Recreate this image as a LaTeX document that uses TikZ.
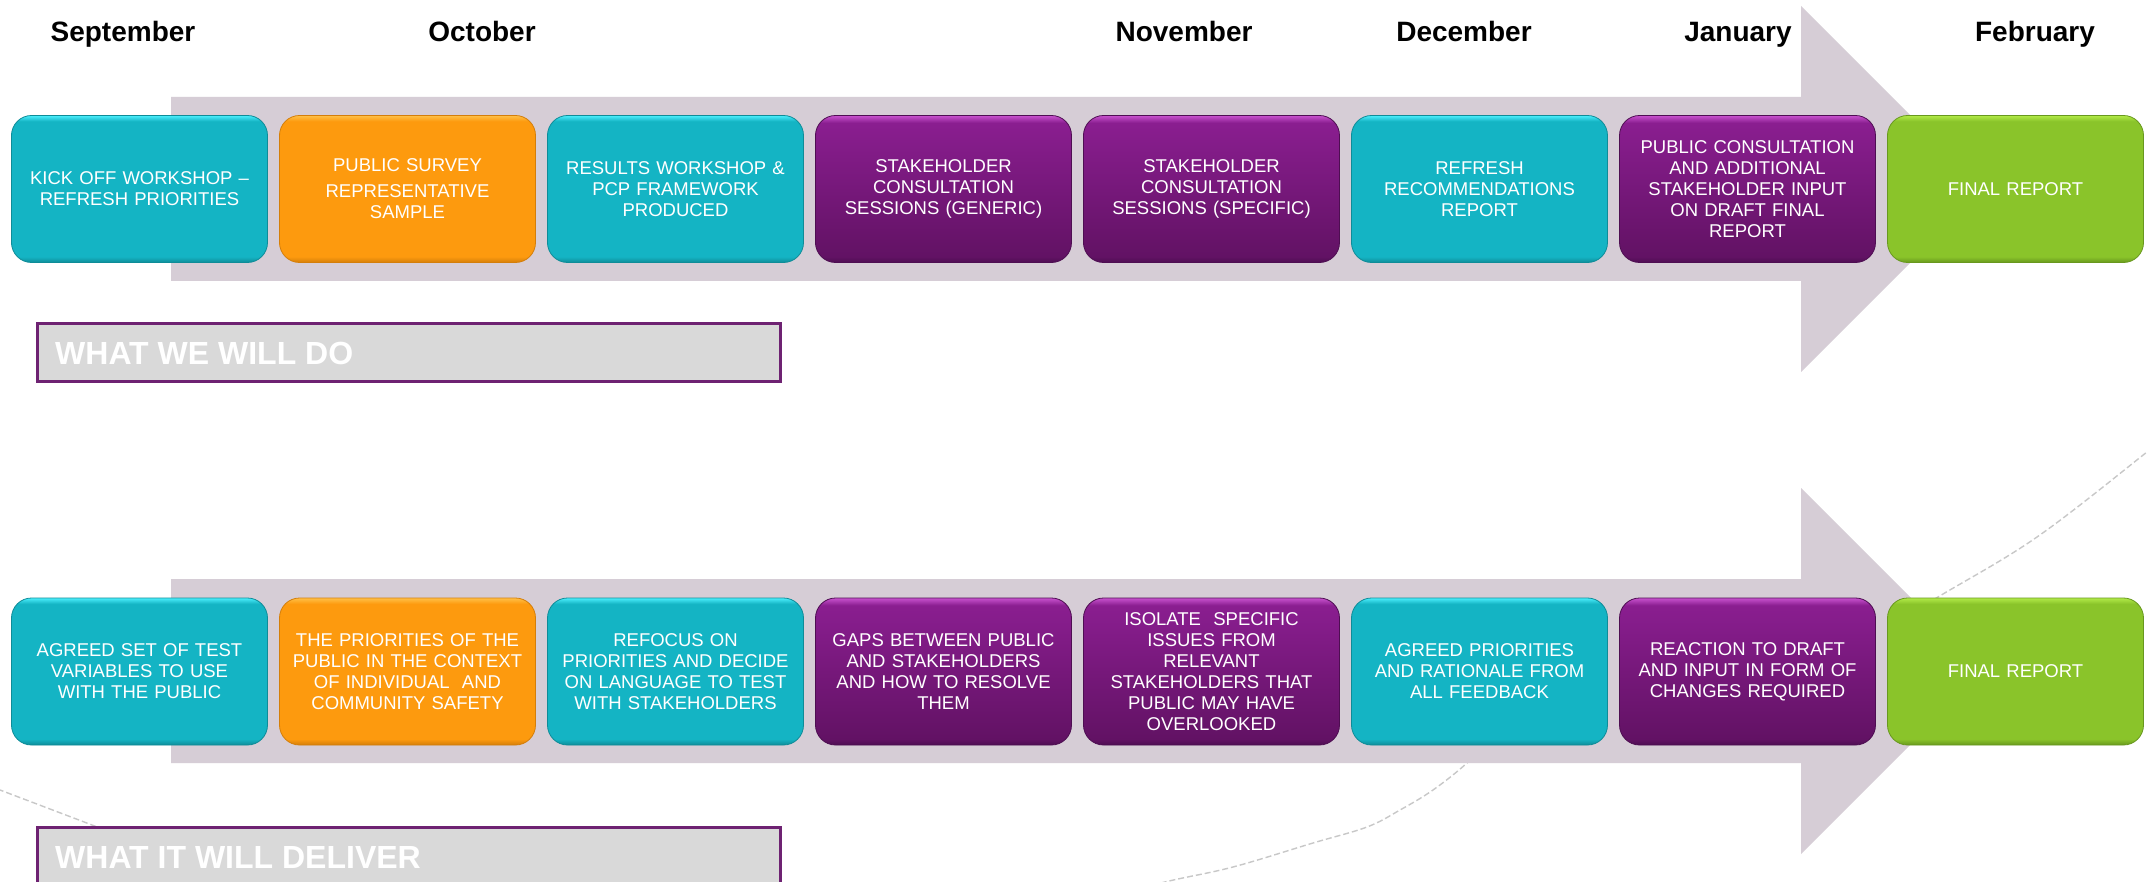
\documentclass[tikz,border=0pt]{standalone}
\usepackage{fontspec}
\setmainfont{Liberation Sans}
\definecolor{arrowc}{RGB}{214,205,214}
\definecolor{tealM}{RGB}{20,180,196}
\definecolor{tealL}{RGB}{75,238,252}
\definecolor{tealD}{RGB}{14,140,152}
\definecolor{orgM}{RGB}{253,154,14}
\definecolor{orgL}{RGB}{255,192,72}
\definecolor{orgD}{RGB}{212,126,10}
\definecolor{purT}{RGB}{138,30,144}
\definecolor{purB}{RGB}{98,18,100}
\definecolor{purL}{RGB}{200,82,206}
\definecolor{purD}{RGB}{78,14,82}
\definecolor{grnM}{RGB}{138,196,42}
\definecolor{grnL}{RGB}{178,234,72}
\definecolor{grnD}{RGB}{104,152,30}
\definecolor{framec}{RGB}{110,34,114}
\definecolor{labelbg}{RGB}{217,217,217}
\definecolor{dashc}{RGB}{200,200,200}
\pgfdeclareverticalshading{tealsh}{100bp}{color(0bp)=(tealD); color(25bp)=(tealD); color(27bp)=(tealM); color(73bp)=(tealM); color(75bp)=(tealL); color(100bp)=(tealL)}
\pgfdeclareverticalshading{orgsh}{100bp}{color(0bp)=(orgD); color(25bp)=(orgD); color(27bp)=(orgM); color(73bp)=(orgM); color(75bp)=(orgL); color(100bp)=(orgL)}
\pgfdeclareverticalshading{pursh}{100bp}{color(0bp)=(purD); color(25bp)=(purD); color(27bp)=(purB); color(72.5bp)=(purT); color(75bp)=(purL); color(100bp)=(purL)}
\pgfdeclareverticalshading{grnsh}{100bp}{color(0bp)=(grnD); color(25bp)=(grnD); color(27bp)=(grnM); color(73bp)=(grnM); color(75bp)=(grnL); color(100bp)=(grnL)}
\tikzset{
  tbox/.style={rounded corners=20pt, minimum width=256pt, minimum height=147pt,
    inner sep=0pt, text width=250pt, align=center, text=white, line width=0.8pt,
    font=\fontsize{18.5}{21}\selectfont},
  tealbox/.style={tbox, shading=tealsh, draw=tealD},
  orgbox/.style={tbox, shading=orgsh, draw=orgD},
  purbox/.style={tbox, shading=pursh, draw=purD},
  grnbox/.style={tbox, shading=grnsh, draw=grnD},
  month/.style={anchor=base, font=\fontsize{28}{32}\bfseries\selectfont, text=black, inner sep=0pt},
  bigarrow/.style={fill=arrowc, draw=none},
  labelframe/.style={fill=labelbg, draw=framec, line width=3.4pt},
  labeltext/.style={anchor=base west, inner sep=0pt, text=white, font=\fontsize{32}{36}\bfseries\selectfont},
  deco/.style={draw=dashc, line width=1.4pt, dash pattern=on 6pt off 3pt}
}
\begin{document}
\begin{tikzpicture}[x=1pt,y=-1pt]
\useasboundingbox (0,0) rectangle (2147,882);
\clip (0,0) rectangle (2147,882);
\fill[white] (0,0) rectangle (2147,882);
% decorative dashed arcs
\draw[deco] plot[smooth, tension=0.6] coordinates {(1100,900) (1165,882) (1233,867) (1313,843) (1367,827) (1400,810) (1433,790) (1467,763) (1500,730)};
\draw[deco] plot[smooth, tension=0.6] coordinates {(1880,632) (1938,597) (2037,537) (2147,452) (2180,425)};
\draw[deco] plot[smooth] coordinates {(-10,786) (0,790) (92,825) (130,840)};
% arrows
\path[bigarrow] (171,97) -- (1801,97) -- (1801,6) -- (1984,189) -- (1801,372) -- (1801,281) -- (171,281) -- cycle;
\path[bigarrow] (171,579) -- (1801,579) -- (1801,488) -- (1984,671) -- (1801,854) -- (1801,763) -- (171,763) -- cycle;
% months
\node[month] (m1) at (123,42) {September};
\node[month] (m2) at (482,42) {October};
\node[month] (m3) at (1184,42) {November};
\node[month] (m4) at (1464,42) {December};
\node[month] (m5) at (1738,42) {January};
\node[month] (m6) at (2035,42) {February};
% top row
\node[tealbox] (t1) at (139.5,189) {KICK OFF WORKSHOP –\\REFRESH PRIORITIES};
\node[orgbox] (t2) at (407.5,189) {PUBLIC SURVEY\\[5pt]REPRESENTATIVE\\SAMPLE};
\node[tealbox] (t3) at (675.5,189) {RESULTS WORKSHOP \&\\PCP FRAMEWORK\\PRODUCED};
\node[purbox] (t4) at (943.5,189) {STAKEHOLDER\\CONSULTATION\\SESSIONS (GENERIC)};
\node[purbox] (t5) at (1211.5,189) {STAKEHOLDER\\CONSULTATION\\SESSIONS (SPECIFIC)};
\node[tealbox] (t6) at (1479.5,189) {REFRESH\\RECOMMENDATIONS\\REPORT};
\node[purbox] (t7) at (1747.5,189) {PUBLIC CONSULTATION\\AND ADDITIONAL\\STAKEHOLDER INPUT\\ON DRAFT FINAL\\REPORT};
\node[grnbox] (t8) at (2015.5,189) {FINAL REPORT};
% bottom row
\node[tealbox] (b1) at (139.5,671.5) {AGREED SET OF TEST\\VARIABLES TO USE\\WITH THE PUBLIC};
\node[orgbox] (b2) at (407.5,671.5) {THE PRIORITIES OF THE\\PUBLIC IN THE CONTEXT\\OF INDIVIDUAL\ \ AND\\COMMUNITY SAFETY};
\node[tealbox] (b3) at (675.5,671.5) {REFOCUS ON\\PRIORITIES AND DECIDE\\ON LANGUAGE TO TEST\\WITH STAKEHOLDERS};
\node[purbox] (b4) at (943.5,671.5) {GAPS BETWEEN PUBLIC\\AND STAKEHOLDERS\\AND HOW TO RESOLVE\\THEM};
\node[purbox] (b5) at (1211.5,671.5) {ISOLATE\ \ SPECIFIC\\ISSUES FROM\\RELEVANT\\STAKEHOLDERS THAT\\PUBLIC MAY HAVE\\OVERLOOKED};
\node[tealbox] (b6) at (1479.5,671.5) {AGREED PRIORITIES\\AND RATIONALE FROM\\ALL FEEDBACK};
\node[purbox] (b7) at (1747.5,671.5) {REACTION TO DRAFT\\AND INPUT IN FORM OF\\CHANGES REQUIRED};
\node[grnbox] (b8) at (2015.5,671.5) {FINAL REPORT};
% section labels
\draw[labelframe] (37.7,323.7) rectangle (780.3,381.3);
\node[labeltext] (l1) at (55,365) {WHAT WE WILL DO};
\draw[labelframe] (37.7,827.7) rectangle (780.3,900);
\node[labeltext] (l2) at (55,868) {WHAT IT WILL DELIVER};
\end{tikzpicture}
\end{document}
